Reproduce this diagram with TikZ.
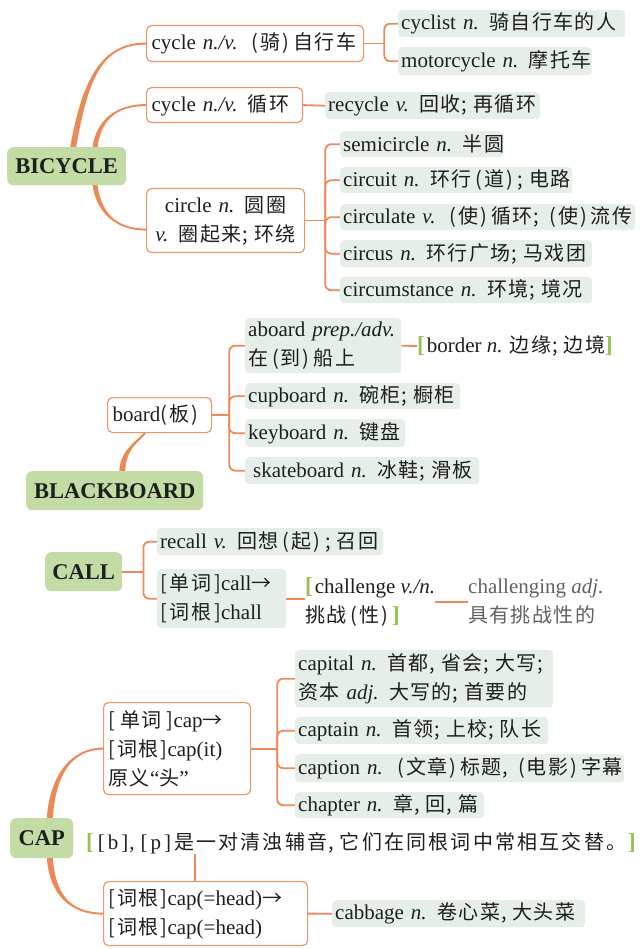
\documentclass[tikz,border=0pt]{standalone}
\usepackage{fontspec}
\setmainfont{Liberation Serif}
\newfontfamily\cjk[LetterSpace=7]{Noto Sans CJK SC}
\newfontfamily\cjkw[LetterSpace=11]{Noto Sans CJK SC}
\usetikzlibrary{calc}
\definecolor{trunkc}{HTML}{EC8A57}
\definecolor{brline}{HTML}{EC8A5A}
\definecolor{oborder}{HTML}{EE9468}
\definecolor{rootg}{HTML}{C3DCA6}
\definecolor{leafg}{HTML}{E5EFE7}
\definecolor{brg}{HTML}{92C452}
\definecolor{ink}{HTML}{1E1E1E}
\pgfdeclarelayer{background}
\pgfsetlayers{background,main}
\newcommand\zh[1]{{\cjk\fontsize{20}{29}\selectfont #1}}
\newcommand\zhw[1]{{\cjkw\fontsize{20}{29}\selectfont #1}}
\newcommand\zlp{\kern4pt(\kern2pt}
\newcommand\zrp{\kern2pt)\kern4pt}
\newcommand\zsc{\kern1pt;\kern6pt}
\newcommand\zcm{\kern1pt,\kern6pt}
\newcommand\gl{{\color{brg}\bfseries\fontsize{23}{29}\selectfont[}}
\newcommand\gr{{\color{brg}\bfseries\fontsize{23}{29}\selectfont]}}
\newcommand\taper[6]{\fill[trunkc] ($(#1)-(#5)$) .. controls ($(#1)+(#3)-(#5)$) and ($(#2)+(#4)-(#6)$) .. ($(#2)-(#6)$) -- ($(#2)+(#6)$) .. controls ($(#2)+(#4)+(#6)$) and ($(#1)+(#3)+(#5)$) .. ($(#1)+(#5)$) -- cycle;}
\begin{document}
\begin{tikzpicture}[x=1pt, y=-1pt, font=\fontsize{21}{29}\selectfont, text=ink,
  root/.style={fill=rootg, rounded corners=6pt, inner sep=0pt, anchor=north west, font=\bfseries\fontsize{22.5}{27}\selectfont, align=center},
  obox/.style={draw=oborder, line width=1.2pt, fill=white, rounded corners=5pt, inner xsep=5pt, inner ysep=0pt, anchor=north west, align=left},
  leaf/.style={fill=leafg, rounded corners=4pt, inner xsep=3pt, inner ysep=0pt, anchor=north west, align=left},
  plain/.style={inner sep=0pt, anchor=west, align=left},
  br/.style={draw=brline, line width=1.8pt},
  brc/.style={br, rounded corners=6pt}]
\useasboundingbox (0,0) rectangle (640,949);
% ---------------- BICYCLE
\node[root, minimum width=119pt, minimum height=38pt] (bic) at (7,147) {BICYCLE};
\node[obox, text width=207pt, minimum height=36pt] (c1) at (146,25) {\mbox{cycle \textit{n./v.} \zh{\zlp 骑\zrp 自行车}}};
\node[leaf, text width=221pt, minimum height=27pt] (cyclist) at (398,10) {\mbox{cyclist \textit{n.} \zh{骑自行车的人}}};
\node[leaf, text width=188pt, minimum height=28pt] (motor) at (398,47) {\mbox{motorcycle \textit{n.} \zh{摩托车}}};
\node[obox, text width=146pt, minimum height=35pt] (c2) at (146,87) {\mbox{cycle \textit{n./v.} \zh{循环}}};
\node[leaf, text width=209pt, minimum height=27pt] (recycle) at (325,92) {\mbox{recycle \textit{v.} \zh{回收\zsc 再循环}}};
\node[obox, text width=148pt, minimum height=64pt, align=center] (c3) at (146,188) {circle \textit{n.} \zh{圆圈}\\\textit{v.} \zh{圈起来\zsc 环绕}};
\node[leaf, text width=157pt, minimum height=26pt] (semi) at (340,131) {\mbox{semicircle \textit{n.} \zh{半圆}}};
\node[leaf, text width=226pt, minimum height=26pt] (circuit) at (340,167) {\mbox{circuit \textit{n.} \zh{环行\zlp 道\zrp\zsc 电路}}};
\node[leaf, text width=289pt, minimum height=26pt] (circulate) at (340,204) {\mbox{circulate \textit{v.} \zh{\zlp 使\zrp 循环\zsc\zlp 使\zrp 流传}}};
\node[leaf, text width=246pt, minimum height=27pt] (circus) at (340,240) {\mbox{circus \textit{n.} \zh{环行广场\zsc 马戏团}}};
\node[leaf, text width=246pt, minimum height=26pt] (circum) at (340,277) {\mbox{circumstance \textit{n.} \zh{环境\zsc 境况}}};
% ---------------- BLACKBOARD
\node[leaf, text width=150pt, minimum height=55pt] (aboard) at (245,318) {\mbox{aboard \textit{prep./adv.}}\\\mbox{\zh{在\zlp 到\zrp 船上}}};
\node[plain] (border) at (417,346) {\mbox{\gl\kern2pt border \textit{n.} \zh{边缘\zsc 边境}\gr}};
\node[obox, text width=94pt, minimum height=35pt] (board) at (107,397) {\mbox{board\zh{(\kern2pt 板\kern2pt)}}};
\node[leaf, text width=209pt, minimum height=26pt] (cupboard) at (245,383) {\mbox{cupboard \textit{n.} \zh{碗柜\zsc 橱柜}}};
\node[leaf, text width=154pt, minimum height=28pt] (keyboard) at (245,419) {\mbox{keyboard \textit{n.} \zh{键盘}}};
\node[leaf, text width=228pt, minimum height=27pt] (skate) at (245,457) {\mbox{\hspace*{5pt}skateboard \textit{n.} \zh{冰鞋\zsc 滑板}}};
\node[root, minimum width=177pt, minimum height=39pt] (bb) at (26,471) {BLACKBOARD};
% ---------------- CALL
\node[root, minimum width=77pt, minimum height=39pt] (call) at (45,552) {CALL};
\node[leaf, text width=220pt, minimum height=27pt] (recall) at (157,528) {\mbox{recall \textit{v.} \zh{回想\zlp 起\zrp\zsc 召回}}};
\node[leaf, text width=123pt, minimum height=59pt] (word) at (157,569) {\mbox{\zh{[\kern3pt 单词\kern3pt]}call\zh{→}}\\\mbox{\zh{[\kern3pt 词根\kern3pt]}chall}};
\node[plain] (chal) at (305,602) {\mbox{\gl\kern2pt challenge \textit{v./n.}}\\\mbox{\zh{挑战\zlp 性\zrp}\gr}};
\node[plain, text=black!62] (chaling) at (468,602) {\mbox{challenging \textit{adj.}}\\\mbox{\zh{具有挑战性的}}};
% ---------------- CAP
\node[obox, text width=137pt, minimum height=92pt] (capbox) at (103,702) {\mbox{\zh{[\kern5pt 单词\kern5pt]}cap\zh{→}}\\\mbox{\zh{[\kern2pt 词根\kern2pt]}cap(it)}\\\mbox{\zh{原义}“\zh{头}”}};
\node[leaf, text width=252pt, minimum height=57pt] (capital) at (295,650) {\mbox{capital \textit{n.} \zh{首都\zcm 省会\zsc 大写\zsc}}\\\mbox{\zh{资本} \textit{adj.} \zh{大写的\zsc 首要的}}};
\node[leaf, text width=247pt, minimum height=27pt] (captain) at (295,717) {\mbox{captain \textit{n.} \zh{首领\zsc 上校\zsc 队长}}};
\node[leaf, text width=323pt, minimum height=28pt] (caption) at (295,754) {\mbox{caption \textit{n.} \zh{\zlp 文章\zrp 标题\zcm\zlp 电影\zrp 字幕}}};
\node[leaf, text width=183pt, minimum height=26pt] (chapter) at (295,792) {\mbox{chapter \textit{n.} \zh{章\zcm 回\zcm 篇}}};
\node[root, minimum width=63pt, minimum height=40pt] (cap) at (10,818) {CAP};
\node[plain] (note) at (86,843) {\mbox{\gl\kern4pt[\kern3pt b\kern3pt]\kern1pt,\kern6pt[\kern3pt p\kern3pt]\kern3pt\zhw{是一对清浊辅音\zcm 它们在同根词中常相互交替。}\kern2pt\gr}};
\node[obox, text width=194pt, minimum height=64pt] (head) at (103,881) {\mbox{\zh{[\kern2pt 词根\kern2pt]}cap(=head)\zh{→}}\\\mbox{\zh{[\kern2pt 词根\kern2pt]}cap(=head)}};
\node[leaf, text width=247pt, minimum height=27pt] (cabbage) at (332,900) {\mbox{cabbage \textit{n.} \zh{卷心菜\zcm 大头菜}}};
% ---------------- connectors
\begin{pgfonlayer}{background}
\fill[white] (0,0) rectangle (640,949);
\coordinate (t1a) at ($(bic.north)+(6,3)$);
\coordinate (t2a) at ($(bic.north)+(28,3)$);
\coordinate (t3a) at ($(bic.south)+(28,-3)$);
\coordinate (t3b) at ($(c3.west)+(0,9)$);
\taper{t1a}{c1.west}{12,-70}{-45,0}{3,0}{0,1}
\taper{t2a}{c2.west}{3,-30}{-30,0}{2.5,0}{0,1}
\taper{t3a}{t3b}{3,30}{-30,0}{2.5,0}{0,-1}
\coordinate (t4a) at ($(bb.north)+(7.5,3)$);
\coordinate (t4b) at ($(board.south west)+(38,0)$);
\taper{t4a}{t4b}{0,-22}{-12,12}{3,0}{0.7,0.7}
\coordinate (t5a) at ($(cap.north)+(8,3)$);
\coordinate (t6a) at ($(cap.south)+(8,-3)$);
\taper{t5a}{capbox.west}{2,-45}{-32,0}{3,0}{0,1}
\taper{t6a}{head.west}{2,40}{-32,0}{3,0}{0,-1}
% brackets
\draw[br] (c1.east) -- ++(20,0) coordinate (j1);
\foreach \n in {cyclist,motor} \draw[brc] (j1) |- (\n.west);
\draw[br] (c2.east) -- (recycle.west);
\draw[br] (c3.east) -- ++(20,0) coordinate (j3);
\foreach \n in {semi,circuit,circulate,circus,circum} \draw[brc] (j3) |- (\n.west);
\draw[br] (board.east) -- ++(17,0) coordinate (j4);
\foreach \n in {aboard,cupboard,keyboard,skate} \draw[brc] (j4) |- (\n.west);
\draw[br] (aboard.east) -- (border.west);
\draw[br] (call.east) -- ++(21,0) coordinate (j5);
\foreach \n in {recall,word} \draw[brc] (j5) |- (\n.west);
\draw[br] (word.east) -- (word.east -| chal.west);
\draw[br] (chal.east) -- (chaling.west);
\draw[br] (capbox.east) -- ++(26,0) coordinate (j6);
\foreach \n in {capital,captain,caption,chapter} \draw[brc] (j6) |- (\n.west);
\coordinate (hx) at ($(head.north west)+(92,0)$);
\draw[br] (hx) -- (hx |- note.south);
\draw[br] (head.east) -- (cabbage.west);
\end{pgfonlayer}
\end{tikzpicture}
\end{document}
